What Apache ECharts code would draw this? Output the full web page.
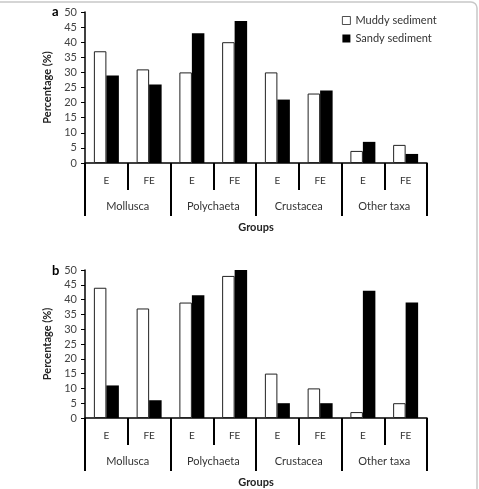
<!DOCTYPE html>
<html><head><meta charset="utf-8">
<script src="https://cdn.jsdelivr.net/npm/echarts@6/dist/echarts.min.js"></script>
<style>html,body{margin:0;padding:0;background:#fff}#c{width:479px;height:489px}</style>
</head><body><div id="c"></div>
<script>
const subCategories = ['E','FE','E','FE','E','FE','E','FE'];
const groups = ['Mollusca','Polychaeta','Crustacea','Other taxa'];
const yTicks = [0,5,10,15,20,25,30,35,40,45,50];
const muddyA = [37,31,30,40,30,23,4,6];
const sandyA = [29,26,43,47,21,24,7,3];
const muddyB = [44,37,39,48,15,10,2,5];
const sandyB = [11,6,41.5,50,5,5,43,39];

const FONT = 'Lato';
const chart = echarts.init(document.getElementById('c'));

function grid(top){ return {left:85, right:52, top:top, height:151}; }
function subAxis(gi){
  return {type:'category', gridIndex:gi, data:subCategories, position:'bottom',
    axisLine:{show:true, lineStyle:{color:'#000', width:1.5}},
    axisTick:{show:true, length:27, interval:0, lineStyle:{color:'#000', width:2}},
    axisLabel:{interval:0, margin:13, fontSize:10, color:'#333', fontFamily:FONT}};
}
function groupAxis(gi){
  return {type:'category', gridIndex:gi, data:groups, position:'bottom',
    axisLine:{show:false},
    axisTick:{show:true, length:53, interval:0, lineStyle:{color:'#000', width:2}},
    axisLabel:{interval:0, margin:38, fontSize:11, color:'#333', fontFamily:FONT},
    name:'Groups', nameLocation:'middle', nameGap:59,
    nameTextStyle:{fontSize:11, fontWeight:'bold', color:'#222', fontFamily:FONT}};
}
function yAxis(gi){
  return {type:'value', gridIndex:gi, min:yTicks[0], max:yTicks[yTicks.length-1], interval:5,
    splitLine:{show:false},
    axisLine:{show:true, lineStyle:{color:'#000', width:1.5}},
    axisTick:{show:true, length:4, lineStyle:{color:'#000'}},
    axisLabel:{margin:8, fontSize:11, color:'#444', fontFamily:FONT},
    name:'Percentage (%)', nameLocation:'middle', nameGap:23,
    nameTextStyle:{fontSize:11, fontWeight:'bold', color:'#222', fontFamily:FONT}};
}
function bars(name, data, gi, white){
  return {type:'bar', name:name, data:data, xAxisIndex:gi*2, yAxisIndex:gi,
    barWidth:12.5, barGap:'0%',
    itemStyle: white ? {color:'#fff', borderColor:'#222', borderWidth:1} : {color:'#000'},
    emphasis:{disabled:true}, animation:false};
}

chart.setOption({
  animation:false,
  textStyle:{fontFamily:FONT},
  grid:[grid(12), grid(270)],
  xAxis:[subAxis(0), groupAxis(0), subAxis(1), groupAxis(1)],
  yAxis:[yAxis(0), yAxis(1)],
  legend:{orient:'vertical', left:337, top:10, itemWidth:8, itemHeight:8, itemGap:7,
    icon:'rect', itemStyle:{borderWidth:0.8}, textStyle:{fontSize:11, color:'#333', fontFamily:FONT},
    data:['Muddy sediment','Sandy sediment']},
  series:[
    bars('Muddy sediment', muddyA, 0, true),
    bars('Sandy sediment', sandyA, 0, false),
    bars('Muddy sediment', muddyB, 1, true),
    bars('Sandy sediment', sandyB, 1, false)
  ],
  graphic:[
    {type:'rect', shape:{x:-10, y:2, width:487, height:500, r:6}, style:{fill:'none', stroke:'#c8c8c8', lineWidth:1.5}, silent:true},
    {type:'text', left:52, top:5, style:{text:'a', font:'bold 13px '+FONT, fill:'#000'}},
    {type:'text', left:52, top:264, style:{text:'b', font:'bold 13px '+FONT, fill:'#000'}}
  ]
});
</script></body></html>
